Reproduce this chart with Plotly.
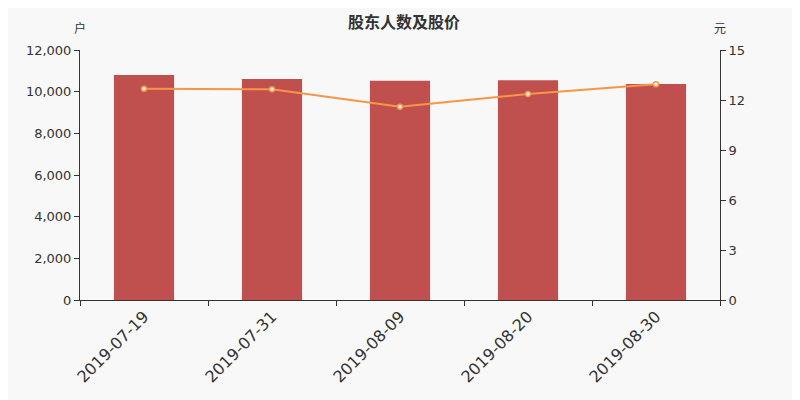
import plotly.graph_objects as go

dates = ['2019-07-19', '2019-07-31', '2019-08-09', '2019-08-20', '2019-08-30']
holders = [10800, 10610, 10530, 10545, 10370]
price = [12.68, 12.64, 11.6, 12.36, 12.95]

fig = go.Figure()
fig.add_trace(go.Bar(x=dates, y=holders, marker_color='#c0504d', width=0.47,
                     marker_line_width=0, name='股东人数'))
fig.add_trace(go.Scatter(x=dates, y=price, yaxis='y2', mode='lines+markers',
                         line=dict(color='#f79646', width=2),
                         marker=dict(size=5, color='#ffffff',
                                     line=dict(color='#f79646', width=1.5)),
                         name='股价'))

# page has an 8px body margin, so the figure is sized/offset to compensate
axis_font = dict(family='DejaVu Sans', size=13, color='#333333')
fig.update_layout(
    width=792, height=392,
    paper_bgcolor='#f8f8f8', plot_bgcolor='#f8f8f8',
    margin=dict(l=72, r=80, t=42, b=100),
    showlegend=False,
    title=dict(text='<b>股东人数及股价</b>', x=0.5, xanchor='center', y=0.962,
               yanchor='middle',
               font=dict(family='Noto Sans CJK SC', size=16, color='#333333')),
    xaxis=dict(type='category', tickson='boundaries', ticks='outside', ticklen=5,
               tickcolor='#333333', showline=True, linecolor='#333333',
               tickangle=-45, automargin=False,
               tickfont=dict(family='DejaVu Sans', size=16, color='#333333'),
               showgrid=False),
    yaxis=dict(range=[0, 12000], dtick=2000, tickformat=',', ticks='outside',
               ticklen=5, tickcolor='#333333', showline=True, linecolor='#333333',
               showgrid=False, zeroline=False, tickfont=axis_font, automargin=False),
    yaxis2=dict(range=[0, 15], dtick=3, overlaying='y', side='right',
                ticks='outside', ticklen=5, tickcolor='#333333', showline=True,
                linecolor='#333333', showgrid=False, zeroline=False,
                tickfont=axis_font, automargin=False),
    annotations=[
        dict(text='户', xref='paper', yref='paper', x=0, y=1.088,
             xanchor='center', yanchor='middle', showarrow=False,
             font=dict(family='Noto Sans CJK SC', size=12, color='#333333')),
        dict(text='元', xref='paper', yref='paper', x=1, y=1.088,
             xanchor='center', yanchor='middle', showarrow=False,
             font=dict(family='Noto Sans CJK SC', size=12, color='#333333')),
    ],
)

fig.write_html("out.html")
